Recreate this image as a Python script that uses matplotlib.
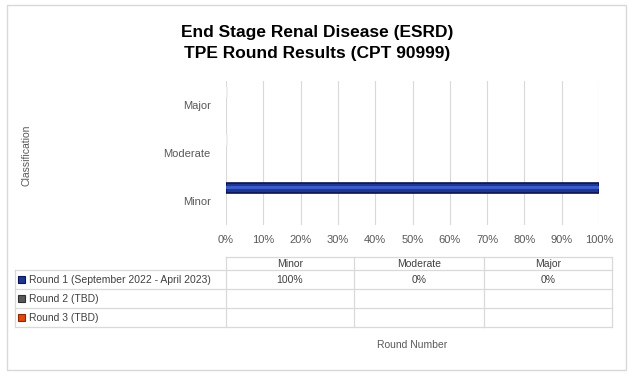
import numpy as np
import matplotlib
matplotlib.use("Agg")
import matplotlib.pyplot as plt
from matplotlib.patches import Rectangle

plt.rcParams['font.family'] = ['Liberation Sans', 'DejaVu Sans']

title = "End Stage Renal Disease (ESRD)\nTPE Round Results (CPT 90999)"
categories = ["Minor", "Moderate", "Major"]
series = ["Round 1 (September 2022 - April 2023)", "Round 2 (TBD)", "Round 3 (TBD)"]
values = [[100, 0, 0], None, None]
cell_text = [["100%", "0%", "0%"], ["", "", ""], ["", "", ""]]
colors = ["#1F3596", "#595959", "#E0480F"]
highlights = ["#3A5CC8", "#7A7A7A", "#F07030"]
edges = ["#0A1450", "#303030", "#8A2A05"]
offsets = [0.27, 0.0, -0.27]

W, H = 634, 377
fig = plt.figure(figsize=(W / 100, H / 100), dpi=100)

# main bar chart
ax = fig.add_axes([226 / W, 1 - 225 / H, 373 / W, 144 / H])
y = np.arange(len(categories))
for i in range(len(series)):
    if values[i] is None:
        continue
    v = np.array(values[i], dtype=float)
    lw = np.where(v > 0, 1.2, 0)
    ax.barh(y + offsets[i], v, height=0.21, color=colors[i],
            edgecolor=edges[i], linewidth=lw, zorder=3)
    ax.barh(y + offsets[i] + 0.02, v, height=0.06, color=highlights[i],
            linewidth=0, zorder=4)
    # faint marker for zero-valued bars
    for k in np.where(v == 0)[0]:
        ax.barh(y[k] + offsets[i], 0.6, height=0.21, color="#EEEEEE",
                linewidth=0, zorder=3)
ax.set_xlim(0, 100)
ax.set_ylim(-0.5, 2.5)
ax.set_xticks(np.arange(0, 101, 10))
ax.set_xticklabels([f"{t}%" for t in range(0, 101, 10)])
ax.set_yticks(y)
ax.set_yticklabels(categories)
ax.tick_params(length=0, labelsize=8, colors="#595959")
ax.tick_params(axis='x', pad=7)
ax.tick_params(axis='y', pad=11)
ax.grid(axis='x', color="#D9D9D9", linewidth=0.8, zorder=0)
for s in ax.spines.values():
    s.set_visible(False)

# overlay for title, table, labels, border
ov = fig.add_axes([0, 0, 1, 1], facecolor="none")
ov.set_xlim(0, W)
ov.set_ylim(H, 0)
ov.axis("off")

ov.add_patch(Rectangle((7, 5), 619, 365, fill=False, edgecolor="#D9D9D9", linewidth=1))
ov.text(317, 43, title, ha="center", va="center", fontsize=12.5,
        fontweight="bold", color="black", linespacing=1.45)
ov.text(27, 155, "Classification", rotation=90, ha="center", va="center",
        fontsize=7.5, color="#595959")
ov.text(412, 345, "Round Number", ha="center", va="center", fontsize=7.5, color="#595959")

# data table
col_x = [15, 226, 354, 484, 612]
row_y = [257, 270, 289, 308, 327]
lc = "#D9D9D9"
# header row (no left cell)
ov.plot([col_x[1], col_x[-1]], [row_y[0], row_y[0]], color=lc, lw=0.9)
for r in row_y[1:]:
    ov.plot([col_x[0], col_x[-1]], [r, r], color=lc, lw=0.9)
for cx in col_x[1:]:
    ov.plot([cx, cx], [row_y[0], row_y[-1]], color=lc, lw=0.9)
ov.plot([col_x[0], col_x[0]], [row_y[1], row_y[-1]], color=lc, lw=0.9)

for j, c in enumerate(categories):
    ov.text((col_x[j + 1] + col_x[j + 2]) / 2, (row_y[0] + row_y[1]) / 2 + 0.5, c,
            ha="center", va="center", fontsize=7.5, color="#404040")
for i, s in enumerate(series):
    yc = (row_y[i + 1] + row_y[i + 2]) / 2
    ov.add_patch(Rectangle((18, yc - 3.5), 7, 7, facecolor=colors[i],
                           edgecolor=edges[i], linewidth=0.8))
    ov.text(29, yc + 0.5, s, ha="left", va="center", fontsize=7.5, color="#404040")
    for j in range(len(categories)):
        ov.text((col_x[j + 1] + col_x[j + 2]) / 2, yc + 0.5, cell_text[i][j],
                ha="center", va="center", fontsize=7.5, color="#404040")

fig.savefig("out.png", dpi=100)
